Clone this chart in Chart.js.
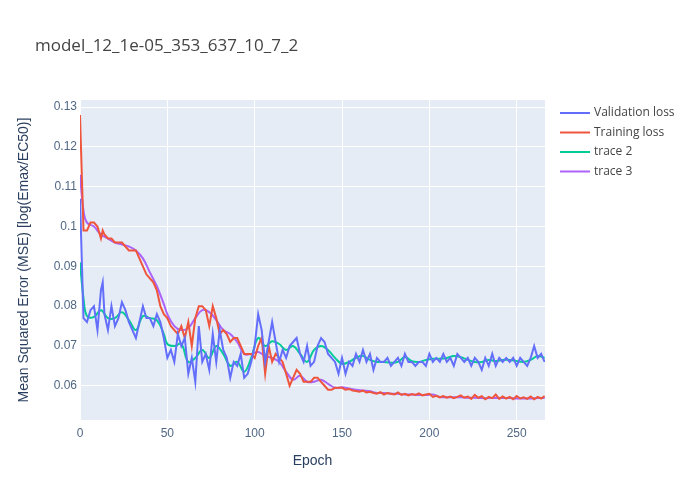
<!DOCTYPE html>
<html>
<head>
<meta charset="utf-8">
<script src="https://cdn.jsdelivr.net/npm/chart.js@4"></script>
<style>
body { margin: 0; background: #fff; }
#wrap { width: 700px; height: 500px; position: relative; }
</style>
</head>
<body>
<div id="wrap"><canvas id="lossChart"></canvas></div>
<script>
const chartTitle = 'model_12_1e-05_353_637_10_7_2';
const seriesNames = ['Validation loss', 'Training loss', 'trace 2', 'trace 3'];
const seriesColors = ['#636efa', '#ef553b', '#00cc96', '#ab63fa'];

// raw losses, read every 2 epochs
const rawEpochs = [0,2,4,6,8,10,12,13,14,16,18,20,22,24,26,28,30,32,34,36,38,40,42,44,46,48,50,52,54,56,58,60,62,64,66,68,70,72,74,76,78,80,82,84,86,88,90,92,94,96,98,100,102,104,106,108,110,112,114,116,118,120,122,124,126,128,130,132,134,136,138,140,142,144,146,148,150,152,154,156,158,160,162,164,166,168,170,172,174,176,178,180,182,184,186,188,190,192,194,196,198,200,202,204,206,208,210,212,214,216,218,220,222,224,226,228,230,232,234,236,238,240,242,244,246,248,250,252,254,256,258,260,262,264,266];
const validationLoss = [0.107,0.077,0.076,0.079,0.080,0.074,0.084,0.086,0.078,0.074,0.080,0.075,0.077,0.081,0.079,0.076,0.074,0.072,0.076,0.080,0.077,0.077,0.075,0.078,0.076,0.072,0.067,0.069,0.066,0.073,0.070,0.072,0.063,0.067,0.061,0.075,0.066,0.068,0.064,0.073,0.066,0.074,0.069,0.067,0.062,0.066,0.065,0.068,0.062,0.063,0.066,0.070,0.078,0.074,0.066,0.071,0.076,0.071,0.066,0.069,0.067,0.070,0.071,0.072,0.068,0.066,0.070,0.065,0.066,0.070,0.072,0.071,0.068,0.067,0.066,0.063,0.067,0.063,0.066,0.065,0.068,0.066,0.069,0.066,0.068,0.064,0.067,0.066,0.066,0.067,0.065,0.066,0.067,0.065,0.068,0.066,0.066,0.065,0.066,0.066,0.065,0.068,0.066,0.067,0.066,0.068,0.066,0.067,0.065,0.068,0.067,0.066,0.067,0.065,0.067,0.066,0.064,0.067,0.065,0.068,0.065,0.067,0.066,0.067,0.066,0.067,0.065,0.067,0.066,0.065,0.067,0.070,0.067,0.068,0.066];
const trainingLoss = [0.128,0.099,0.099,0.101,0.101,0.100,0.097,0.099,0.098,0.097,0.097,0.096,0.096,0.096,0.095,0.094,0.094,0.094,0.092,0.090,0.088,0.087,0.086,0.084,0.080,0.078,0.077,0.075,0.074,0.073,0.075,0.072,0.076,0.070,0.077,0.080,0.080,0.079,0.075,0.080,0.077,0.073,0.074,0.073,0.071,0.072,0.072,0.070,0.068,0.068,0.068,0.067,0.070,0.072,0.063,0.070,0.066,0.068,0.067,0.066,0.063,0.060,0.062,0.064,0.063,0.061,0.061,0.061,0.062,0.062,0.061,0.060,0.059,0.059,0.0595,0.0595,0.0595,0.059,0.0592,0.0588,0.0587,0.0585,0.0588,0.0583,0.0585,0.0582,0.0580,0.0584,0.0578,0.0582,0.0580,0.0578,0.0583,0.0577,0.0580,0.0576,0.0579,0.0577,0.0581,0.0576,0.0578,0.0580,0.0572,0.0575,0.0571,0.0574,0.0570,0.0573,0.0569,0.0572,0.0576,0.0570,0.0573,0.0567,0.0577,0.0570,0.0574,0.0566,0.0572,0.0569,0.0578,0.0567,0.0573,0.0568,0.0572,0.0566,0.0574,0.0568,0.0571,0.0567,0.0573,0.0566,0.0572,0.0568,0.0574];

// smoothed traces, read every 4 epochs
const smoothEpochs = [0,2,4,8,12,16,20,24,28,32,36,40,44,48,50,54,58,62,66,70,74,78,82,86,90,94,98,102,106,110,114,118,122,126,130,134,138,142,146,150,154,158,162,166,170,174,178,182,186,190,194,198,202,206,210,214,218,222,226,230,234,238,242,246,250,254,258,262,266];
const trace2 = [0.091,0.082,0.0775,0.0773,0.079,0.077,0.077,0.0785,0.0765,0.074,0.0775,0.077,0.0765,0.073,0.0705,0.070,0.0705,0.066,0.067,0.069,0.067,0.070,0.068,0.065,0.066,0.0635,0.067,0.072,0.070,0.0712,0.0705,0.069,0.070,0.068,0.066,0.069,0.070,0.069,0.067,0.0655,0.066,0.067,0.0675,0.0665,0.066,0.066,0.0658,0.066,0.0672,0.0662,0.066,0.0665,0.0668,0.0668,0.067,0.0675,0.0672,0.0665,0.066,0.066,0.0665,0.0662,0.0665,0.0665,0.0662,0.066,0.0665,0.0675,0.067];
const trace3 = [0.113,0.104,0.101,0.100,0.098,0.097,0.096,0.0955,0.095,0.094,0.092,0.0885,0.085,0.0805,0.078,0.075,0.074,0.0745,0.077,0.079,0.0785,0.0765,0.074,0.073,0.071,0.068,0.068,0.0685,0.0675,0.067,0.066,0.0635,0.0615,0.0625,0.061,0.061,0.0615,0.0605,0.0595,0.0596,0.0593,0.059,0.0588,0.0586,0.0582,0.0582,0.058,0.058,0.0578,0.0578,0.0577,0.0577,0.0578,0.0572,0.0571,0.0571,0.0571,0.057,0.057,0.0569,0.0569,0.0569,0.0569,0.0569,0.0568,0.0568,0.0568,0.0569,0.0569];

const yTicks = [0.06, 0.07, 0.08, 0.09, 0.1, 0.11, 0.12, 0.13];
const xTicks = [0, 50, 100, 150, 200, 250];

function pts(xs, ys) { return xs.map((x, i) => ({ x: x, y: ys[i] })); }

const plotBg = {
    id: 'plotBg',
    beforeDraw(chart) {
        const { ctx, chartArea: a } = chart;
        ctx.save();
        ctx.fillStyle = '#e5ecf6';
        ctx.fillRect(a.left, a.top, a.right - a.left, a.bottom - a.top);
        ctx.restore();
    },
    afterDraw(chart) {
        const ctx = chart.ctx;
        ctx.save();
        ctx.fillStyle = '#444';
        ctx.font = '17px "Open Sans", sans-serif';
        ctx.textBaseline = 'middle';
        ctx.fillText(chartTitle, 35, 46);
        ctx.font = '12px "Open Sans", sans-serif';
        seriesNames.forEach((name, i) => {
            const y = 113 + i * 19.5;
            ctx.strokeStyle = seriesColors[i];
            ctx.lineWidth = 2;
            ctx.beginPath();
            ctx.moveTo(560, y);
            ctx.lineTo(590, y);
            ctx.stroke();
            ctx.fillText(name, 594, y);
        });
        ctx.restore();
    }
};

const lineSets = [
    { label: seriesNames[0], data: pts(rawEpochs, validationLoss), borderColor: seriesColors[0], tension: 0 },
    { label: seriesNames[1], data: pts(rawEpochs, trainingLoss), borderColor: seriesColors[1], tension: 0 },
    { label: seriesNames[2], data: pts(smoothEpochs, trace2), borderColor: seriesColors[2], tension: 0.4 },
    { label: seriesNames[3], data: pts(smoothEpochs, trace3), borderColor: seriesColors[3], tension: 0.4 }
];
lineSets.forEach(d => { d.borderWidth = 2; d.pointRadius = 0; d.fill = false; });

new Chart(document.getElementById('lossChart'), {
    type: 'line',
    data: { datasets: lineSets },
    options: {
        responsive: true,
        maintainAspectRatio: false,
        animation: false,
        layout: { padding: { top: 100, right: 155, left: 12, bottom: 0 } },
        plugins: { legend: { display: false }, tooltip: { enabled: false } },
        scales: {
            x: {
                type: 'linear', min: 0, max: 266.2,
                afterBuildTicks(s) { s.ticks = xTicks.map(v => ({ value: v })); },
                grid: { color: '#fff', lineWidth: 1, drawTicks: false },
                border: { display: false },
                ticks: { color: '#506784', font: { size: 12 }, padding: 6 },
                title: { display: true, text: 'Epoch', color: '#2a3f5f', font: { size: 14 }, padding: { top: 8, bottom: 30 } },
                afterFit(s) { s.height = 80; }
            },
            y: {
                min: 0.0514, max: 0.1318,
                afterBuildTicks(s) { s.ticks = yTicks.map(v => ({ value: v })); },
                grid: { color: '#fff', lineWidth: 1, drawTicks: false },
                border: { display: false },
                ticks: { color: '#506784', font: { size: 12 }, padding: 3, callback: v => String(Math.round(v * 100) / 100) },
                title: { display: true, text: 'Mean Squared Error (MSE) [log(Emax/EC50)]', color: '#2a3f5f', font: { size: 14 } },
                afterFit(s) { s.width = 68; }
            }
        }
    },
    plugins: [plotBg]
});
</script>
</body>
</html>
